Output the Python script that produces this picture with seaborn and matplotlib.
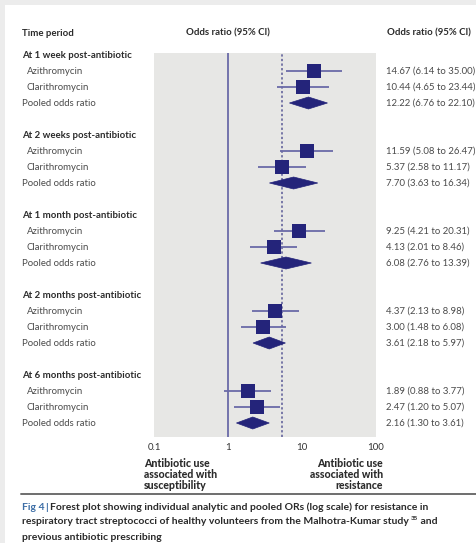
import numpy as np
import pandas as pd
import matplotlib
matplotlib.use("Agg")
import matplotlib.pyplot as plt
import seaborn as sns
from matplotlib.patches import Polygon, Rectangle
from matplotlib.transforms import blended_transform_factory

# ---------------- data ----------------
periods = ["At 1 week post-antibiotic", "At 2 weeks post-antibiotic",
           "At 1 month post-antibiotic", "At 2 months post-antibiotic",
           "At 6 months post-antibiotic"]
drugs = ["Azithromycin", "Clarithromycin"]
pooled_label = "Pooled odds ratio"

azi_or = [14.67, 11.59, 9.25, 4.37, 1.89]
azi_lo = [6.14, 5.08, 4.21, 2.13, 0.88]
azi_hi = [35.00, 26.47, 20.31, 8.98, 3.77]

cla_or = [10.44, 5.37, 4.13, 3.00, 2.47]
cla_lo = [4.65, 2.58, 2.01, 1.48, 1.20]
cla_hi = [23.44, 11.17, 8.46, 6.08, 5.07]

pool_or = [12.22, 7.70, 6.08, 3.61, 2.16]
pool_lo = [6.76, 3.63, 2.76, 2.18, 1.30]
pool_hi = [22.10, 16.34, 13.39, 5.97, 3.61]

overall_or = 5.4          # dashed reference line
x_ticks = [0.1, 1, 10, 100]
x_tick_labels = ["0.1", "1", "10", "100"]

# ---------------- style ----------------
sns.set_theme(style="white")
plt.rcParams["font.family"] = ["Lato", "DejaVu Sans"]

W, H = 477, 543
fig = plt.figure(figsize=(W / 100, H / 100), dpi=100)
fig.patch.set_facecolor("#ececec")
fig.patches.append(Rectangle((5 / W, 0), 1, 1 - 5 / H, transform=fig.transFigure,
                             facecolor="white", edgecolor="none", zorder=-10))

def fx(px):
    return px / W

def fy(py):
    return 1 - py / H

row0_px, row_step = 55, 16
ax_left, ax_right, ax_top, ax_bot = 154, 376, 53, 437
ax = fig.add_axes([fx(ax_left), fy(ax_bot), fx(ax_right - ax_left), (ax_bot - ax_top) / H])
ax.set_facecolor("#e7e7e5")
for s in ax.spines.values():
    s.set_visible(False)

ymin = (ax_bot - row0_px) / row_step
ymax = (ax_top - row0_px) / row_step
ax.set_xscale("log")
ax.set_xlim(0.1, 100)
ax.set_ylim(ymin, ymax)

# build table
rows = []
for g, p in enumerate(periods):
    base = 5 * g
    rows.append(dict(kind="drug", label=drugs[0], row=base + 1, est=azi_or[g], lo=azi_lo[g], hi=azi_hi[g]))
    rows.append(dict(kind="drug", label=drugs[1], row=base + 2, est=cla_or[g], lo=cla_lo[g], hi=cla_hi[g]))
    rows.append(dict(kind="pool", label=pooled_label, row=base + 3, est=pool_or[g], lo=pool_lo[g], hi=pool_hi[g]))
df = pd.DataFrame(rows)
dd = df[df.kind == "drug"]
pp = df[df.kind == "pool"]

navy = "#24247a"
line_c = "#6a6aa8"

ax.axvline(1, color=line_c, lw=1.3, zorder=1)
ax.axvline(overall_or, color="#5a5a96", lw=1.1, ls=(0, (1.5, 1.5)), zorder=1)

ax.hlines(dd.row, dd.lo, dd.hi, color=line_c, lw=1.3, zorder=2)
sns.scatterplot(data=dd, x="est", y="row", marker="s", s=90, color=navy,
                edgecolor=navy, linewidth=0, ax=ax, zorder=3, legend=False)

half_h = 6 / row_step
for _, r in pp.iterrows():
    ax.add_patch(Polygon([(r.lo, r.row), (r.est, r.row - half_h), (r.hi, r.row), (r.est, r.row + half_h)],
                         closed=True, facecolor=navy, edgecolor=navy, lw=0.5, zorder=3))

ax.set_xlabel("")
ax.set_ylabel("")
ax.set_yticks([])
ax.set_xticks(x_ticks)
ax.set_xticklabels(x_tick_labels)
ax.minorticks_off()
ax.tick_params(axis="x", length=0, pad=4, labelsize=7, labelcolor="#333333")

# ---------------- texts ----------------
tr = blended_transform_factory(fig.transFigure, ax.transData)
hdr_c = "#2b2b2b"
item_c = "#4a4a4a"
fs_hdr = 6.9
fs_item = 6.9

for g, p in enumerate(periods):
    base = 5 * g
    ax.text(fx(22), base, p, transform=tr, ha="left", va="center", fontsize=fs_hdr,
            fontweight="bold", color=hdr_c, clip_on=False)
for _, r in df.iterrows():
    xpos = fx(27) if r.kind == "drug" else fx(22)
    ax.text(xpos, r.row, r.label, transform=tr, ha="left", va="center", fontsize=fs_item,
            color=item_c, clip_on=False)
    ax.text(fx(386), r.row, f"{r.est:.2f} ({r.lo:.2f} to {r.hi:.2f})", transform=tr,
            ha="left", va="center", fontsize=fs_item, color=item_c, clip_on=False)

fig.text(fx(22), fy(33), "Time period", ha="left", va="center", fontsize=fs_hdr,
         fontweight="bold", color=hdr_c)
fig.text(fx(228), fy(33), "Odds ratio (95% CI)", ha="center", va="center", fontsize=fs_hdr,
         fontweight="bold", color=hdr_c)
fig.text(fx(387), fy(33), "Odds ratio (95% CI)", ha="left", va="center", fontsize=fs_hdr,
         fontweight="bold", color=hdr_c)

fig.text(fx(144), fy(458), "Antibiotic use\nassociated with\nsusceptibility", ha="left", va="top",
         fontsize=7.6, fontweight="black", color=hdr_c, linespacing=1.0)
fig.text(fx(383), fy(458), "Antibiotic use\nassociated with\nresistance", ha="right", va="top",
         fontsize=7.6, fontweight="black", color=hdr_c, linespacing=1.0, multialignment="right")

# separator
fig.add_artist(plt.Line2D([fx(21), 1], [fy(494), fy(494)], transform=fig.transFigure,
                          color="#6e6e6e", lw=1.4))

# caption
cap_fs = 7.45
cap_c = "#2a2a2a"
renderer = fig.canvas.get_renderer()

t1 = fig.text(fx(22), fy(507), "Fig 4", ha="left", va="center", fontsize=cap_fs,
              fontweight="bold", color="#3d6ea6")
bb = t1.get_window_extent(renderer)
t2 = fig.text(bb.x1 / W + 1 / W, fy(507), "|", ha="left", va="center", fontsize=cap_fs,
              fontweight="bold", color="#3d6ea6")
bb = t2.get_window_extent(renderer)
fig.text(bb.x1 / W + 2 / W, fy(507),
         "Forest plot showing individual analytic and pooled ORs (log scale) for resistance in",
         ha="left", va="center", fontsize=cap_fs, fontweight="bold", color=cap_c)
t4 = fig.text(fx(22), fy(522),
              "respiratory tract streptococci of healthy volunteers from the Malhotra-Kumar study",
              ha="left", va="center", fontsize=cap_fs, fontweight="bold", color=cap_c)
bb = t4.get_window_extent(renderer)
t5 = fig.text(bb.x1 / W + 1.5 / W, fy(518), "35", ha="left", va="center", fontsize=4.5,
              fontweight="bold", color=cap_c)
bb = t5.get_window_extent(renderer)
fig.text(bb.x1 / W, fy(522), " and", ha="left", va="center", fontsize=cap_fs,
         fontweight="bold", color=cap_c)
fig.text(fx(22), fy(537), "previous antibiotic prescribing", ha="left", va="center",
         fontsize=cap_fs, fontweight="bold", color=cap_c)

fig.savefig("out.png", dpi=100, facecolor=fig.get_facecolor())
